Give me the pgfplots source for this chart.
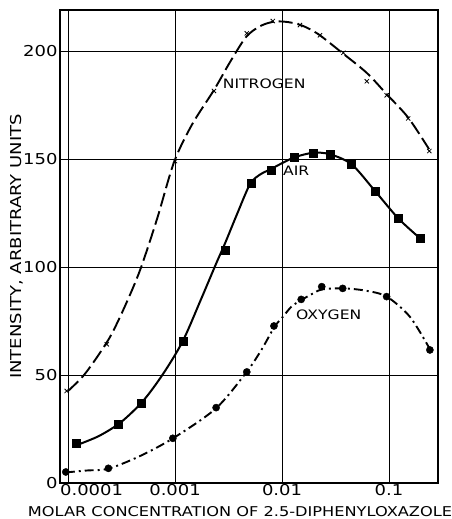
\documentclass[border=0pt]{standalone}
\usepackage{fontspec}
\setmainfont{DejaVu Sans}[FakeStretch=1.2]
\usepackage{pgfplots}
\pgfplotsset{compat=1.18}
\begin{document}
\begin{tikzpicture}[x=1pt,y=1pt]
\useasboundingbox (0,0) rectangle (452,519);
\begin{axis}[
  at={(60pt,36pt)}, anchor=south west, scale only axis,
  width=378pt, height=473pt,
  xmode=log, xmin=8.4e-5, xmax=0.287, ymin=0, ymax=219,
  xtick={0.0001,0.001,0.01,0.1},
  xticklabels={\makebox[0pt][l]{\hspace*{-8pt}0.0001},0.001,0.01,0.1},
  ytick={0,50,100,150,200},
  xminorticks=false, yminorticks=false,
  grid=major, major grid style={black, line width=0.9pt},
  major tick style={draw=none},
  axis line style={line width=1.8pt},
  /pgf/number format/assume math mode=true,
  ticklabel style={font=\fontsize{15}{15}\selectfont},
  xticklabel style={yshift=2pt},
  yticklabel style={xshift=1pt},
  xlabel={MOLAR CONCENTRATION OF 2.5-DIPHENYLOXAZOLE},
  ylabel={INTENSITY, ARBITRARY UNITS},
  xlabel style={font=\fontsize{13.5}{14}\selectfont, at={(axis description cs:0.5,0)}, anchor=north, yshift=-20pt, xshift=-9pt},
  ylabel style={font=\fontsize{15}{15}\selectfont, yshift=-7pt},
  clip=false,
]
% Nitrogen curve
\addplot[black, line width=1.9pt, dash pattern=on 14pt off 5pt, smooth] coordinates {
(0.0001,42.6) (0.0001381,49.5) (0.0001866,58.3) (0.0002523,68.5) (0.0003409,82.0)
(0.000471,98.6) (0.0006788,122.3) (0.0009788,148.6) (0.001442,166.0) (0.002314,182.0)
(0.003266,194.9) (0.00461,206.5) (0.006228,211.5) (0.008418,213.6) (0.01138,213.4)
(0.01538,211.8) (0.0217,207.9) (0.03637,199.2) (0.06186,189.9) (0.09517,180.0)
(0.1515,169.1) (0.2365,154.6)};
\addplot[black, only marks, mark=x, mark size=3pt, mark options={line width=0.8pt}] coordinates {
(0.000097,42.6) (0.00023,64.2) (0.001,149) (0.00231,181.5) (0.00468,208.2)
(0.0082,213.9) (0.0147,212) (0.0226,207.3) (0.0374,199.2) (0.062,186)
(0.095,179.5) (0.151,168.8) (0.238,153.7)};
% Air curve
\addplot[black, line width=2pt, smooth] coordinates {
(0.0001214,17.6) (0.0001949,21.8) (0.0003128,28.2) (0.0005022,38.0) (0.0007724,50.5)
(0.001175,65.5) (0.001712,84.0) (0.002416,101.5) (0.002933,111.0) (0.003797,124.5)
(0.005023,138.4) (0.006228,142.8) (0.00784,145.3) (0.009935,148.0) (0.01323,150.9)
(0.01961,152.9) (0.02809,152.2) (0.04481,147.5) (0.07398,135.2) (0.1222,122.5) (0.1949,113.3)};
\addplot[black, only marks, mark=square*, mark size=4pt] coordinates {
(0.000119,18.4) (0.000295,27.2) (0.00048,36.9) (0.00118,65.7) (0.00293,107.9)
(0.0052,139) (0.0080,144.9) (0.013,151) (0.0194,152.9) (0.0281,152.2)
(0.044,147.5) (0.074,135.2) (0.122,122.5) (0.195,113.3)};
% Oxygen curve
\addplot[black, line width=1.9pt, dash pattern=on 9pt off 4pt on 2pt off 4pt, smooth] coordinates {
(0.0000952,4.9) (0.0001505,5.8) (0.0002379,6.6) (0.000471,12.5) (0.0009641,20.8)
(0.002416,34.6) (0.004679,51.5) (0.006461,61.9) (0.008473,72.2) (0.01028,77.2)
(0.01232,81.8) (0.01505,84.6) (0.01827,87.0) (0.0235,89.6) (0.0374,90.1)
(0.05966,89.1) (0.09517,86.3) (0.1571,76.9) (0.2416,61.9)};
\addplot[black, only marks, mark=*, mark size=3.6pt] coordinates {
(0.0000952,5.1) (0.000238,6.8) (0.000953,20.7) (0.00242,34.9) (0.00468,51.4)
(0.0084,72.7) (0.0151,85) (0.0235,90.9) (0.0369,90.1) (0.095,86.3) (0.241,61.6)};
\node[anchor=west, font=\fontsize{13}{13}\selectfont, inner sep=0pt] at (axis cs:0.00279,184.7) {NITROGEN};
\node[anchor=west, font=\fontsize{13}{13}\selectfont, inner sep=0pt] at (axis cs:0.0102,144.4) {AIR};
\node[anchor=west, font=\fontsize{13}{13}\selectfont, inner sep=0pt] at (axis cs:0.0135,77.8) {OXYGEN};
\end{axis}
\end{tikzpicture}
\end{document}
